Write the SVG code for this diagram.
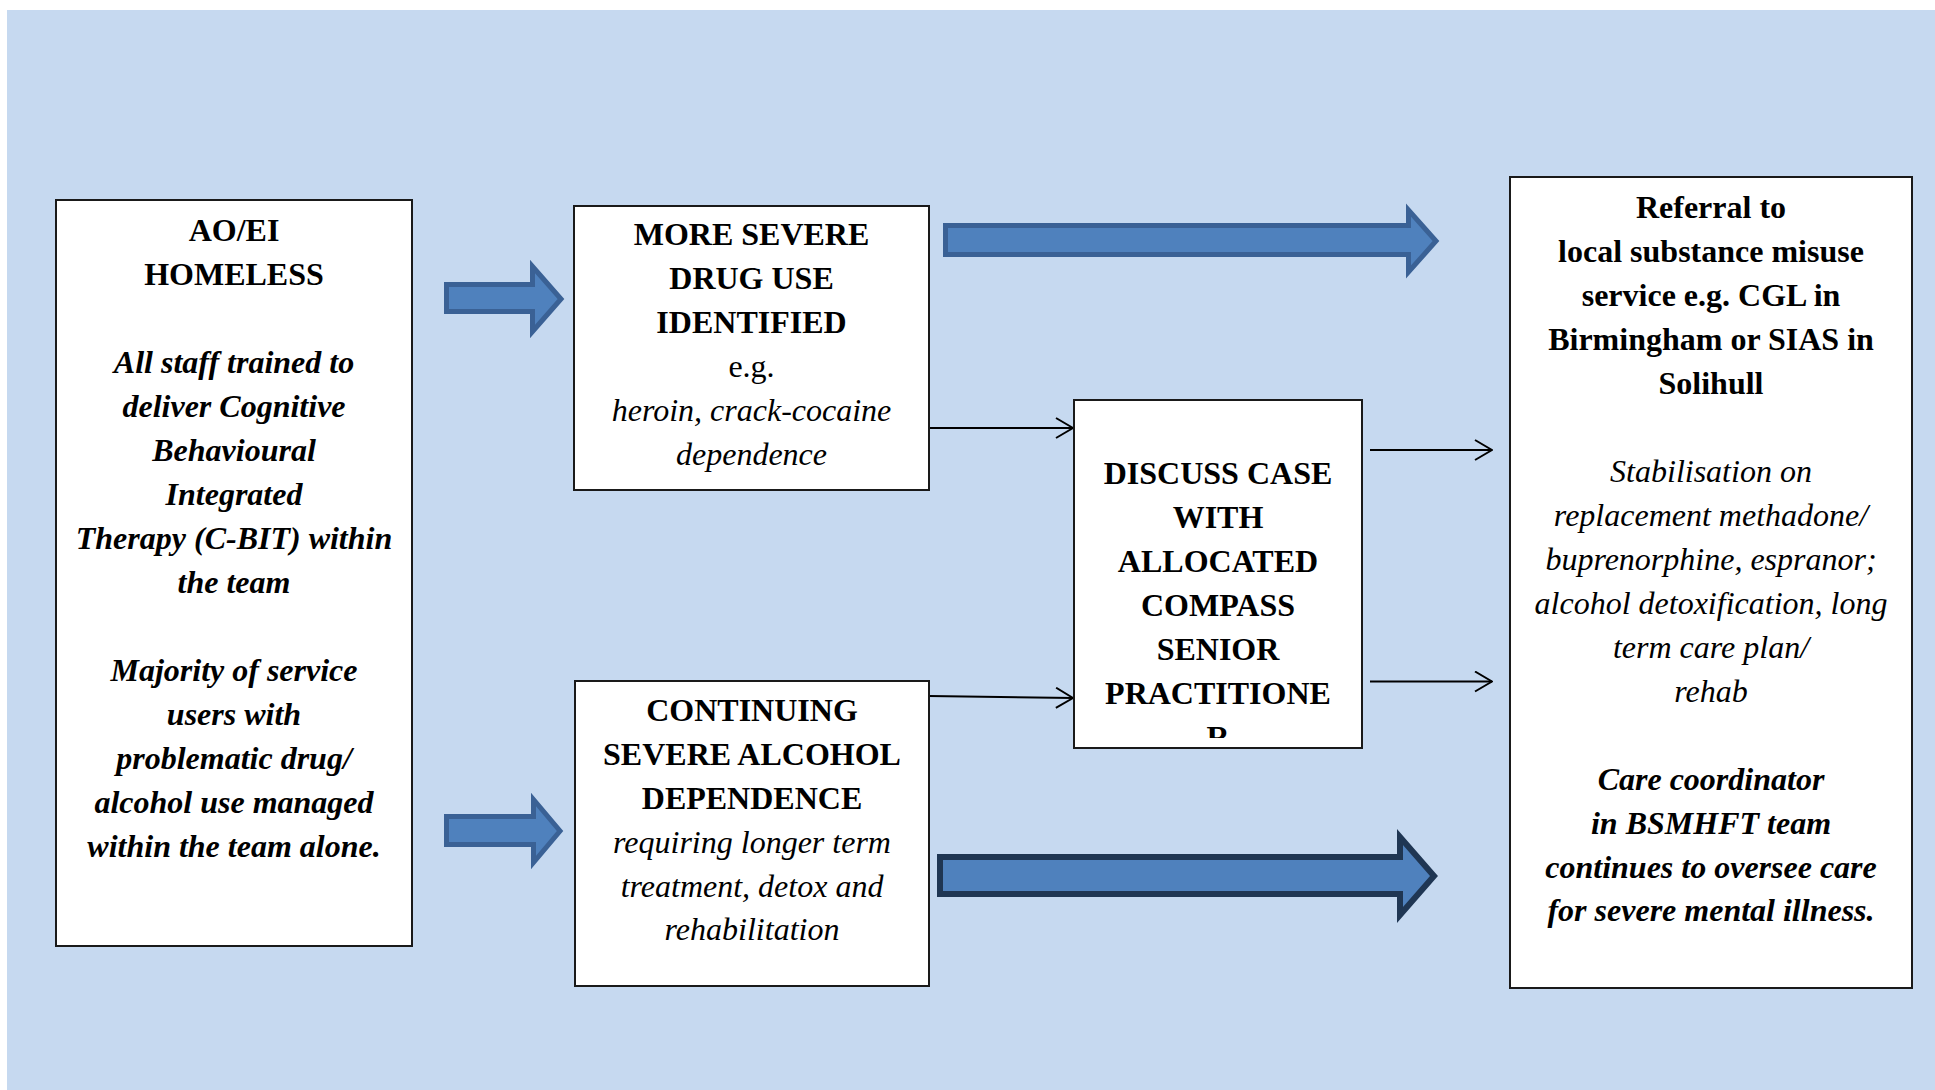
<svg xmlns="http://www.w3.org/2000/svg" width="1935" height="1090" viewBox="0 0 1935 1090">
  <defs>
    <style>
      .box { fill: #ffffff; stroke: #1a1a1a; stroke-width: 2; }
      .t { font-family: "Liberation Serif", "Times New Roman", serif; font-size: 32px; fill: #000; text-anchor: middle; }
      .b { font-weight: bold; }
      .i { font-style: italic; }
      .bi { font-weight: bold; font-style: italic; }
      .thin { fill: none; stroke: #000; stroke-width: 2; }
      .blockA { fill: #4f81bd; stroke: #3a6195; stroke-width: 5; stroke-linejoin: miter; }
      .blockB { fill: #4f81bd; stroke: #1f3653; stroke-width: 6; stroke-linejoin: miter; }
    </style>
    <marker id="open" viewBox="0 0 20 22" refX="19" refY="11" markerWidth="20" markerHeight="22" markerUnits="userSpaceOnUse" orient="auto">
      <path d="M2,1 L19,11 L2,21" fill="none" stroke="#000" stroke-width="2"/>
    </marker>
    <clipPath id="clip-discuss">
      <rect x="1074" y="400" width="288" height="338"/>
    </clipPath>
  </defs>

  <!-- page background -->
  <rect x="0" y="0" width="1935" height="1090" fill="#ffffff"/>
  <rect x="7" y="10" width="1928" height="1080" fill="#c6d9f0"/>

  <!-- connectors -->
  <g id="connectors">
    <!-- block arrows -->
    <path class="blockA" d="M446.5,284.5 H532.5 V266.5 L561,299 L532.5,331.5 V311.5 H446.5 Z"/>
    <path class="blockA" d="M446.5,816.5 H533.5 V799.5 L560,831 L533.5,862.5 V844.5 H446.5 Z"/>
    <path class="blockA" d="M945.5,225.5 H1408.5 V210 L1436,241 L1408.5,272 V254.5 H945.5 Z"/>
    <path class="blockB" d="M940,857 H1400 V837 L1434,876 L1400,915 V894 H940 Z"/>
    <!-- thin arrows -->
    <line class="thin" x1="929" y1="428" x2="1073" y2="428" marker-end="url(#open)"/>
    <line class="thin" x1="929" y1="696" x2="1073" y2="698" marker-end="url(#open)"/>
    <line class="thin" x1="1370" y1="450" x2="1492" y2="450" marker-end="url(#open)"/>
    <line class="thin" x1="1370" y1="681.5" x2="1492" y2="681.5" marker-end="url(#open)"/>
  </g>

  <!-- AO/EI homeless team -->
  <g id="node-aoei">
    <rect class="box" x="56" y="200" width="356" height="746"/>
    <text class="t b" x="234" y="241">AO/EI</text>
    <text class="t b" x="234" y="285">HOMELESS</text>
    <text class="t bi" x="234" y="373">All staff trained to</text>
    <text class="t bi" x="234" y="417">deliver Cognitive</text>
    <text class="t bi" x="234" y="461">Behavioural</text>
    <text class="t bi" x="234" y="505">Integrated</text>
    <text class="t bi" x="234" y="549">Therapy (C-BIT) within</text>
    <text class="t bi" x="234" y="593">the team</text>
    <text class="t bi" x="234" y="681">Majority of service</text>
    <text class="t bi" x="234" y="725">users with</text>
    <text class="t bi" x="234" y="769">problematic drug/</text>
    <text class="t bi" x="234" y="813">alcohol use managed</text>
    <text class="t bi" x="234" y="857">within the team alone.</text>
  </g>

  <!-- severe drug use -->
  <g id="node-drug">
    <rect class="box" x="574" y="206" width="355" height="284"/>
    <text class="t b" x="751.5" y="245">MORE SEVERE</text>
    <text class="t b" x="751.5" y="289">DRUG USE</text>
    <text class="t b" x="751.5" y="333">IDENTIFIED</text>
    <text class="t" x="751.5" y="377">e.g.</text>
    <text class="t i" x="751.5" y="421">heroin, crack-cocaine</text>
    <text class="t i" x="751.5" y="465">dependence</text>
  </g>

  <!-- severe alcohol dependence -->
  <g id="node-alcohol">
    <rect class="box" x="575" y="681" width="354" height="305"/>
    <text class="t b" x="752" y="721">CONTINUING</text>
    <text class="t b" x="752" y="765">SEVERE ALCOHOL</text>
    <text class="t b" x="752" y="809">DEPENDENCE</text>
    <text class="t i" x="752" y="853">requiring longer term</text>
    <text class="t i" x="752" y="897">treatment, detox and</text>
    <text class="t i" x="752" y="940">rehabilitation</text>
  </g>

  <!-- discuss with senior practitioner -->
  <g id="node-discuss">
    <rect class="box" x="1074" y="400" width="288" height="348"/>
    <g clip-path="url(#clip-discuss)">
      <text class="t b" x="1218" y="484">DISCUSS CASE</text>
      <text class="t b" x="1218" y="528">WITH</text>
      <text class="t b" x="1218" y="572">ALLOCATED</text>
      <text class="t b" x="1218" y="616">COMPASS</text>
      <text class="t b" x="1218" y="660">SENIOR</text>
      <text class="t b" x="1218" y="704">PRACTITIONE</text>
      <text class="t b" x="1218" y="748">R</text>
    </g>
  </g>

  <!-- referral to local service -->
  <g id="node-referral">
    <rect class="box" x="1510" y="177" width="402" height="811"/>
    <text class="t b" x="1711" y="218">Referral to</text>
    <text class="t b" x="1711" y="262">local substance misuse</text>
    <text class="t b" x="1711" y="306">service e.g. CGL in</text>
    <text class="t b" x="1711" y="350">Birmingham or SIAS in</text>
    <text class="t b" x="1711" y="394">Solihull</text>
    <text class="t i" x="1711" y="482">Stabilisation on</text>
    <text class="t i" x="1711" y="526">replacement methadone/</text>
    <text class="t i" x="1711" y="570">buprenorphine, espranor;</text>
    <text class="t i" x="1711" y="614">alcohol detoxification, long</text>
    <text class="t i" x="1711" y="658">term care plan/</text>
    <text class="t i" x="1711" y="702">rehab</text>
    <text class="t bi" x="1711" y="790">Care coordinator</text>
    <text class="t bi" x="1711" y="834">in BSMHFT team</text>
    <text class="t bi" x="1711" y="878">continues to oversee care</text>
    <text class="t bi" x="1711" y="921">for severe mental illness.</text>
  </g>
</svg>
